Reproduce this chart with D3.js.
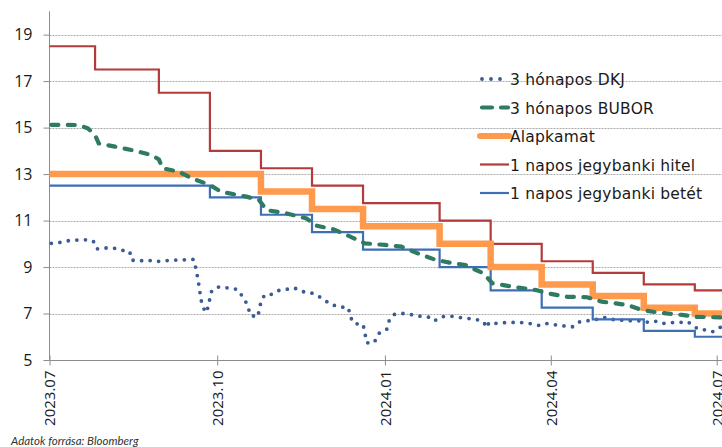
<!DOCTYPE html>
<html>
<head>
<meta charset="utf-8">
<script src="https://cdn.jsdelivr.net/npm/d3@7"></script>
<style>
  body { margin: 0; background: #fff; }
  svg { display: block; }
</style>
</head>
<body>
<div id="my_dataviz"></div>
<script>
// step dates of the central bank rates (effective days)
var rateDates = ["2023-07-01","2023-07-26","2023-08-30","2023-09-27","2023-10-25","2023-11-22",
  "2023-12-20","2024-01-31","2024-02-28","2024-03-27","2024-04-24","2024-05-22","2024-06-19","2024-07-05"];
var hitel     = [18.5, 17.5, 16.5, 14, 13.25, 12.5, 11.75, 11, 10, 9.25, 8.75, 8.25, 8, 8];
var alapkamat = [13, 13, 13, 13, 12.25, 11.5, 10.75, 10, 9, 8.25, 7.75, 7.25, 7, 7];
var betet     = [12.5, 12.5, 12.5, 12, 11.25, 10.5, 9.75, 9, 8, 7.25, 6.75, 6.25, 6, 6];

// 3 month BUBOR
var buborDates = ["2023-07-02","2023-07-17","2023-07-22","2023-07-26","2023-07-28","2023-08-06",
  "2023-08-17","2023-08-26","2023-08-30","2023-09-01","2023-09-10","2023-09-17","2023-09-27",
  "2023-10-03","2023-10-17","2023-10-24","2023-10-28","2023-11-08","2023-11-19","2023-11-24",
  "2023-12-04","2023-12-13","2023-12-21","2024-01-01","2024-01-10","2024-01-19","2024-01-28",
  "2024-02-06","2024-02-14","2024-02-24","2024-02-29","2024-03-13","2024-03-24","2024-03-30",
  "2024-04-10","2024-04-21","2024-04-29","2024-05-13","2024-05-21","2024-05-30","2024-06-12",
  "2024-06-19","2024-07-03"];
var bubor = [15.12, 15.11, 14.97, 14.68, 14.32, 14.18, 14.0, 13.82, 13.63, 13.25, 13.1, 12.82, 12.53,
  12.24, 12.03, 11.88, 11.45, 11.31, 11.09, 10.79, 10.62, 10.31, 10.02, 9.95, 9.88, 9.59, 9.33,
  9.18, 9.09, 8.73, 8.3, 8.13, 8.01, 7.87, 7.72, 7.7, 7.51, 7.37, 7.15, 7.04, 6.94, 6.86, 6.83];

// 3 month DKJ
var dkjDates = ["2023-07-02","2023-07-07","2023-07-11","2023-07-16","2023-07-21","2023-07-25",
  "2023-07-27","2023-07-31","2023-08-05","2023-08-10","2023-08-14","2023-08-15","2023-08-19",
  "2023-08-24","2023-08-28","2023-09-02","2023-09-07","2023-09-11","2023-09-18","2023-09-19",
  "2023-09-20","2023-09-21","2023-09-22","2023-09-23","2023-09-25","2023-09-26","2023-09-27",
  "2023-09-28","2023-10-02","2023-10-07","2023-10-12","2023-10-14","2023-10-16","2023-10-18",
  "2023-10-19","2023-10-23","2023-10-24","2023-10-25","2023-10-27","2023-10-31","2023-11-03",
  "2023-11-08","2023-11-12","2023-11-17","2023-11-21","2023-11-25","2023-11-29","2023-12-02",
  "2023-12-07","2023-12-12","2023-12-13","2023-12-15","2023-12-20","2023-12-21","2023-12-22",
  "2023-12-26","2023-12-29","2024-01-02","2024-01-03","2024-01-06","2024-01-10","2024-01-15",
  "2024-01-20","2024-01-25","2024-01-28","2024-02-01","2024-02-06","2024-02-10","2024-02-15",
  "2024-02-20","2024-02-24","2024-02-26","2024-02-27","2024-03-03","2024-03-07","2024-03-12",
  "2024-03-17","2024-03-22","2024-03-26","2024-03-30","2024-04-04","2024-04-09","2024-04-13",
  "2024-04-17","2024-04-22","2024-04-26","2024-04-30","2024-05-04","2024-05-09","2024-05-13",
  "2024-05-19","2024-05-23","2024-05-28","2024-06-01","2024-06-06","2024-06-10","2024-06-15",
  "2024-06-21","2024-06-26","2024-06-29","2024-07-03"];
var dkj = [10.02, 10.06, 10.13, 10.16, 10.17, 10.12, 9.78, 9.82, 9.82, 9.72, 9.67, 9.30, 9.26,
  9.30, 9.23, 9.27, 9.30, 9.30, 9.33, 9.04, 8.66, 8.2, 7.65, 7.29, 7.04, 7.29, 7.65, 7.98,
  8.15, 8.1, 8.04, 7.83, 7.61, 7.29, 6.94, 6.84, 7.11, 7.51, 7.80, 7.83, 7.98, 8.04, 8.11,
  7.94, 7.91, 7.77, 7.58, 7.40, 7.29, 7.25, 6.86, 6.57, 6.53, 6.17, 5.74, 5.74, 6.17, 6.32,
  6.65, 6.96, 7.01, 6.96, 6.89, 6.84, 6.68, 6.86, 6.89, 6.84, 6.79, 6.75, 6.65, 6.39, 6.61,
  6.57, 6.61, 6.62, 6.61, 6.55, 6.48, 6.57, 6.51, 6.46, 6.43, 6.65, 6.70, 6.75, 6.84, 6.75,
  6.72, 6.69, 6.69, 6.62, 6.68, 6.57, 6.61, 6.61, 6.65, 6.32, 6.29, 6.22, 6.41];

var yTicks = [5, 7, 9, 11, 13, 15, 17, 19];
var xTicks = ["2023-07-01","2023-10-01","2024-01-01","2024-04-01","2024-07-01"];
var legendNames = ["3 hónapos DKJ", "3 hónapos BUBOR", "Alapkamat", "1 napos jegybanki hitel", "1 napos jegybanki betét"];
var source = "Adatok forrása: Bloomberg";

var parse = d3.timeParse("%Y-%m-%d");
function zip(dates, vals) {
  return dates.map(function(d, i) { return {date: parse(d), value: vals[i]}; });
}

var W = 722, H = 447;
var svg = d3.select("#my_dataviz")
  .append("svg")
    .attr("width", W)
    .attr("height", H);

var x = d3.scaleTime()
  .domain([parse("2023-07-01"), parse("2024-07-01")])
  .range([49.5, 716.7]);
var y = d3.scaleLinear()
  .domain([5, 20])
  .range([360, 11.4]);

// gridlines
svg.append("g")
  .selectAll("line")
  .data(yTicks.slice(1))
  .enter()
  .append("line")
    .attr("x1", 49.5).attr("x2", W)
    .attr("y1", function(d) { return Math.round(y(d)) + 0.5; })
    .attr("y2", function(d) { return Math.round(y(d)) + 0.5; })
    .attr("stroke", "#ababab")
    .attr("stroke-dasharray", "2 1");

// Y axis
var yAxis = svg.append("g")
  .attr("transform", "translate(49.5,0)")
  .call(d3.axisLeft(y).tickValues(yTicks).tickSize(6).tickPadding(11));
yAxis.select(".domain").attr("stroke", "#8c8c8c").attr("d", "M0," + y(20) + "V360");
yAxis.selectAll(".tick line").attr("stroke", "#8c8c8c");
yAxis.selectAll("text")
  .style("font-family", "'Open Sans', sans-serif")
  .style("font-size", "16px")
  .attr("fill", "#1a1a1a");

// X axis
var xAxis = svg.append("g")
  .attr("transform", "translate(0,360.5)")
  .call(d3.axisBottom(x).tickValues(xTicks.map(parse)).tickFormat(d3.timeFormat("%Y.%m")).tickSize(5));
xAxis.select(".domain").attr("stroke", "#8c8c8c").attr("d", "M49.5,0H" + W);
xAxis.selectAll(".tick line").attr("stroke", "#8c8c8c").attr("y1", -5);
xAxis.selectAll("text")
  .style("font-family", "'Open Sans', sans-serif")
  .style("font-size", "15px")
  .attr("fill", "#1a1a1a")
  .attr("transform", "rotate(-90)")
  .attr("x", -10)
  .attr("y", 0)
  .attr("dy", "0.36em")
  .style("text-anchor", "end");

var stepLine = d3.line()
  .curve(d3.curveStepAfter)
  .x(function(d) { return x(d.date); })
  .y(function(d) { return y(d.value); });
var smoothLine = d3.line()
  .x(function(d) { return x(d.date); })
  .y(function(d) { return y(d.value); });

// series, drawn back to front
var series = [
  {name: legendNames[0], data: zip(dkjDates, dkj), gen: smoothLine, color: "#3a5b94", width: 3.8, dash: "0 8.6", cap: "round"},
  {name: legendNames[4], data: zip(rateDates, betet), gen: stepLine, color: "#3e6fb5", width: 2.2, dash: null, cap: "butt"},
  {name: legendNames[3], data: zip(rateDates, hitel), gen: stepLine, color: "#b23b3b", width: 2.2, dash: null, cap: "butt"},
  {name: legendNames[2], data: zip(rateDates, alapkamat), gen: stepLine, color: "#ff9a4d", width: 6.5, dash: null, cap: "butt"},
  {name: legendNames[1], data: zip(buborDates, bubor), gen: smoothLine, color: "#2f7a62", width: 4.2, dash: "7 9.5", cap: "round"}
];

series.forEach(function(s) {
  svg.append("path")
    .datum(s.data)
    .attr("fill", "none")
    .attr("stroke", s.color)
    .attr("stroke-width", s.width)
    .attr("stroke-linecap", s.cap)
    .attr("stroke-linejoin", "miter")
    .attr("stroke-dasharray", s.dash)
    .attr("d", s.gen);
});

// legend
var legendOrder = [0, 4, 3, 2, 1].map(function(i) { return series[i]; });
var leg = svg.append("g").attr("transform", "translate(480,0)");
legendOrder.forEach(function(s, i) {
  var by = 85 + i * 28.5;
  leg.append("line")
    .attr("x1", s.cap === "round" ? 2 : 0).attr("x2", s.cap === "round" ? 28 : 29)
    .attr("y1", by - 6).attr("y2", by - 6)
    .attr("stroke", s.color)
    .attr("stroke-width", s.name === "Alapkamat" ? 6 : s.width)
    .attr("stroke-linecap", s.name === "Alapkamat" ? "round" : s.cap)
    .attr("stroke-dasharray", s.dash === null ? null : (s.name === "3 hónapos DKJ" ? "0 9" : "10 9"));
  leg.append("text")
    .attr("x", 30)
    .attr("y", by)
    .text(s.name)
    .style("font-family", "'DejaVu Sans', sans-serif")
    .style("font-size", "15.5px")
    .style("letter-spacing", "0.2px")
    .attr("fill", "#1a1a1a");
});

// source note
svg.append("text")
  .attr("x", 11)
  .attr("y", 445)
  .text(source)
  .style("font-family", "Lato, sans-serif")
  .style("font-style", "italic")
  .style("font-size", "11.5px")
  .attr("fill", "#333");
</script>
</body>
</html>
